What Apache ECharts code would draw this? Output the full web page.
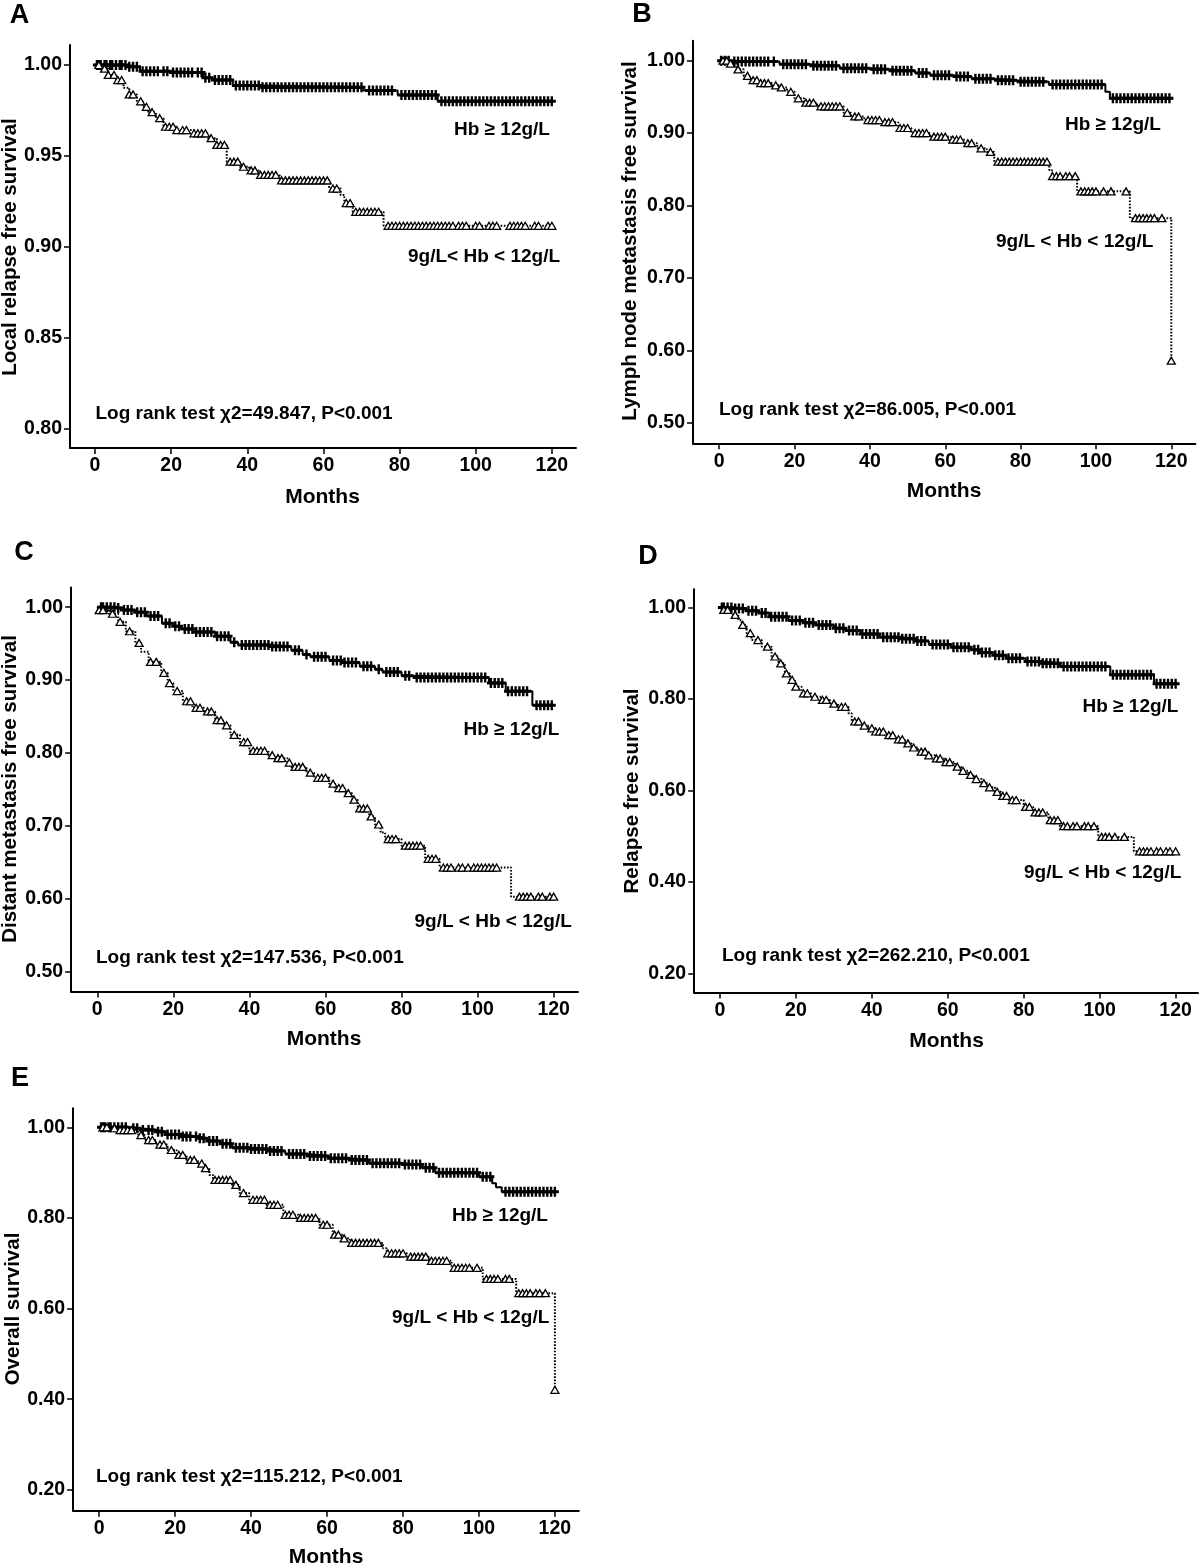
<!DOCTYPE html>
<html><head><meta charset="utf-8">
<script src="https://cdn.jsdelivr.net/npm/echarts@6/dist/echarts.min.js"></script>
<style>html,body{margin:0;padding:0;background:#fff}#c{width:1200px;height:1567px}</style>
</head><body><div id="c"></div>
<script>
// ---------- DATA ----------
const xTicks = [0, 20, 40, 60, 80, 100, 120];
const yTicksA = [0.80, 0.85, 0.90, 0.95, 1.00];
const yTicksB = [0.50, 0.60, 0.70, 0.80, 0.90, 1.00];
const yTicksC = [0.50, 0.60, 0.70, 0.80, 0.90, 1.00];
const yTicksD = [0.20, 0.40, 0.60, 0.80, 1.00];
const yTicksE = [0.20, 0.40, 0.60, 0.80, 1.00];

const titles = ["Local relapse free survival", "Lymph node metastasis free survival",
  "Distant metastasis free survival", "Relapse free survival", "Overall survival"];
const letters = ["A", "B", "C", "D", "E"];
const groupHigh = "Hb \u2265 12g/L";
const groupLowA = "9g/L< Hb < 12g/L";
const groupLow = "9g/L < Hb < 12g/L";
const logRank = ["Log rank test \u03c72=49.847, P<0.001", "Log rank test \u03c72=86.005, P<0.001",
  "Log rank test \u03c72=147.536, P<0.001", "Log rank test \u03c72=262.210, P<0.001",
  "Log rank test \u03c72=115.212, P<0.001"];
const xTitle = "Months";

// KM steps: [event time (months), survival after event]
const stepsA_hi = [[0,1],[8.3,0.999],[11.8,0.9965],[20,0.9958],[28.4,0.993],[31,0.9917],[36.2,0.9887],[44,0.9878],[70.5,0.986],[79.5,0.9835],[90,0.98]];
const stepsA_lo = [[0,1],[1.5,0.998],[3.5,0.9945],[5.5,0.9917],[7.5,0.9875],[9,0.9838],[11,0.98],[12.5,0.977],[14,0.974],[16,0.9707],[18,0.966],[21.5,0.9642],[26,0.9624],[29.5,0.9597],[32,0.956],[34.6,0.9468],[38,0.944],[40.5,0.942],[43,0.9395],[48.5,0.9365],[61.5,0.932],[64.5,0.9285],[65.5,0.924],[67.7,0.9192],[75.8,0.9115]];
const stepsB_hi = [[0,1],[3,0.999],[16,0.995],[24,0.993],[32,0.9895],[40,0.988],[45,0.986],[52,0.983],[56,0.98],[62,0.978],[67,0.975],[73,0.973],[79,0.971],[87.5,0.967],[102.5,0.957],[103.7,0.948]];
const stepsB_lo = [[0,1],[2.4,0.996],[4.5,0.988],[6.5,0.979],[8,0.973],[11,0.969],[14,0.966],[16,0.963],[18,0.957],[20,0.948],[22.5,0.942],[26,0.937],[33,0.928],[35,0.923],[38.5,0.918],[43,0.915],[47.5,0.907],[51,0.9],[56,0.895],[61.5,0.891],[65,0.886],[68.5,0.879],[71,0.874],[73,0.8605],[87.6,0.849],[88.3,0.8405],[95,0.8195],[109,0.7825],[120,0.5856]];
const stepsC_hi = [[0,1],[5,0.999],[7,0.996],[10,0.993],[13,0.988],[17,0.978],[20,0.974],[22,0.97],[26,0.966],[31,0.96],[35,0.952],[37,0.948],[46,0.946],[51,0.941],[54,0.935],[56,0.932],[61,0.927],[65,0.924],[69,0.919],[73,0.915],[75,0.911],[80,0.906],[83,0.9036],[103,0.896],[107.4,0.8846],[114.4,0.8656]];
const stepsC_lo = [[0,1],[0.5,0.996],[3,0.991],[5.5,0.98],[7.5,0.967],[10,0.951],[11.5,0.939],[13.5,0.925],[16.8,0.91],[18.5,0.896],[20,0.885],[22.5,0.871],[25,0.862],[28,0.857],[31,0.845],[33,0.838],[35,0.825],[37.5,0.815],[40,0.803],[45,0.797],[46.5,0.793],[50,0.787],[51,0.781],[55,0.773],[57,0.766],[61,0.758],[62.5,0.752],[65,0.745],[67,0.736],[68.5,0.724],[71.5,0.713],[73,0.702],[74.5,0.691],[75.7,0.682],[80,0.673],[86.2,0.655],[90,0.643],[108.8,0.603]];
const stepsD_hi = [[0,1],[4,0.998],[7,0.993],[10,0.988],[13,0.98],[18,0.972],[22,0.967],[25,0.962],[30,0.955],[33,0.95],[37,0.942],[42,0.935],[48,0.932],[52,0.927],[55,0.919],[61,0.913],[66,0.908],[68.5,0.902],[72,0.896],[75.5,0.889],[80.5,0.882],[85,0.878],[89.5,0.871],[102.8,0.853],[114.3,0.8335]];
const stepsD_lo = [[0,1],[1,0.995],[3,0.984],[4.8,0.973],[5.7,0.962],[7,0.944],[8.3,0.929],[11,0.9145],[13.6,0.893],[15.4,0.878],[17.1,0.856],[18.4,0.842],[19.7,0.827],[21.5,0.8125],[24,0.805],[26.8,0.798],[29,0.79],[31.1,0.783],[33.8,0.769],[34.7,0.751],[37,0.742],[39,0.736],[41,0.729],[43.4,0.721],[46,0.712],[48.7,0.703],[50.5,0.694],[52.2,0.685],[54.5,0.677],[56.6,0.67],[59,0.662],[61.9,0.652],[63.5,0.643],[65.4,0.634],[67,0.625],[68.9,0.616],[70.5,0.607],[72.4,0.597],[74,0.588],[76,0.579],[80,0.564],[82.5,0.552],[86.5,0.535],[89.5,0.522],[99.6,0.4985],[109,0.467]];
const stepsE_hi = [[0,1],[8,0.998],[11,0.994],[15,0.99],[18,0.984],[22,0.98],[26,0.976],[28.5,0.97],[32,0.964],[35,0.955],[40,0.952],[45,0.948],[49,0.941],[55,0.937],[60.5,0.932],[66,0.928],[71,0.921],[80,0.918],[85,0.911],[88.5,0.9],[100,0.891],[103.5,0.8765],[104.5,0.868],[106,0.858]];
const stepsE_lo = [[0,1],[3,0.998],[5,0.994],[9.5,0.99],[10.3,0.983],[12,0.972],[15,0.962],[18,0.95],[20.4,0.939],[23,0.928],[26,0.92],[27.4,0.91],[29,0.895],[30,0.884],[35,0.873],[37,0.855],[39.5,0.84],[44,0.829],[48.5,0.807],[52.5,0.8],[58,0.785],[61.5,0.763],[64,0.755],[66,0.745],[74.7,0.733],[75.7,0.722],[81,0.7147],[86.7,0.7055],[92.8,0.69],[101,0.6655],[109.8,0.634],[120,0.4207]];

// Censoring times (months)
const censA_hi = "0.5 1 1.5 2.5 3 4 4.5 5.5 6.5 7 8 9 10 11 12.5 13.5 14.5 15.5 16.5 18 19 20.5 21.5 22.5 23.5 24.5 25.5 27 28 29 30 31.5 32.5 33.5 34.5 35.5 37 38 39 40 41 42 43 44 45 46 47 48 49 50 51 52 53 54 55 56 57 58 59 60 61 62 63 64 65 66 67 68 69 70 72 73 74 75 76 77 78 80.5 81.5 82.5 83.5 84.5 85.5 86.5 87.5 88.5 89.5 91 92 93 94 95 96 97 98 99 100 101 102 103 104 105 106 107 108 109 110 111 112 113 114 115 116 117 118 119 120";
const censA_lo = "1 2.5 3.5 5 6 7 9 10 12 13.5 15 17 18.5 19.5 20.5 21.5 23 24 26 27 28 29 30.5 32 33 34 35.5 36.5 37.5 39 41 42 43.5 44.5 45.5 46.5 47.5 49 50 51 52 53 54 55 56 57 58 59 60 61 62.5 63.5 66 67 68.5 69.5 70.5 71.5 72.5 73.5 74.5 77 78 79 80 81 82 83 84 85 86 87 88 89 90 91 92 93 94 95.5 96.5 97.5 100 101 103.5 104.5 105.5 109 110 111 112 113 115.5 116.5 119 120";
const censB_hi = "0.5 1.5 2.5 4 5 6 7 8 9 10 11 12 13 14.5 17 18 19 20 21 22 23 25 26 27 28 29 30 31 33 34 35 36 37 38 39 41 42 43 44 46 47 48 49 50 51 53 54 55 57 58 59 60 61 63 64 65 66 68 69 70 71 72 74 75 76 77 78 80 81 82 83 84 85 86 88.5 89.5 90.5 91.5 92.5 93.5 94.5 95.5 96.5 97.5 98.5 99.5 100.5 101.5 104.5 105.5 106.5 107.5 108.5 109.5 110.5 111.5 112.5 113.5 114.5 115.5 116.5 117.5 118.5 119.5";
const censB_lo = "1 2 3 5 7.5 9 10 11 12 13 15 16.5 19 21 23 24 25 27 28 29 30 31 32 34 36 37 39.5 40.5 41.5 42.5 44 45 46 48 49 50 52 53 54 55 57 58 59 60 62 63 64 66 67 69.5 72 74 75 76 77 78 79 80 81 82 83 84 85 86 87 88.5 89.5 90.5 92 93 94.5 96 97 98 99 100 102 104 108 110.5 111.5 112.5 113.5 114.5 115.5 117.5 120";
const censC_hi = "1 1.5 2.5 3.5 4.5 5.5 7 8 9 10.5 11.5 12.5 14 15 16 18 19 20.5 21.5 23 24 25 26 27 28 29 30 31.5 32.5 33.5 34.5 36 38 39 40 41 42 43 44 45 46 47 48 49 50 52 53 55 57 58 59 60 62 63 64 65 66 67 68 70 71 72 74 76 77 78 79 81 82 84 85 86 87 88 89 90 91 92 93 94 95 96 97 98 99 100 101 102 103.5 104.5 105.5 106.5 108 109 110 111 112 113 115.5 116.5 117.5 118.5 119.5";
const censC_lo = "0.5 1.5 4 6 8.5 11 14 15.5 17.5 19 21 23.5 24.5 26 27 29 30 31.5 32.5 34 36 38.5 39.5 41 42 43 44 46 47.5 48.5 50.5 52 53 54 56 58 59 60 62 63.5 64.5 66 67.5 69 70 71 72 74 76.5 77.5 78.5 81 82 83 84 85 87 88 89 91 92 93 95 96 97.5 99 100 101 102 103 104 105 111 112 113 114 116 117 119 120";
const censD_hi = "0.5 1 2 3 4 5 6 7.5 8.5 9.5 11 12 13.5 14.5 15.5 16.5 17.5 19 20 21 22.5 23.5 24.5 26 27 28 29 30.5 31.5 32.5 34 35 36 37.5 38.5 39.5 40.5 41.5 43 44 45 46 47 48 49 50 51 52 53 54 56 57 58 59 60 61.5 62.5 63.5 64.5 65.5 67 68 69 70 71 72.5 73.5 74.5 76 77 78 79 81 82 83 84 85 86 87 88 89 90.5 91.5 92.5 93.5 94.5 95.5 96.5 97.5 98.5 99.5 100.5 101.5 103.5 104.5 105.5 106.5 107.5 108.5 109.5 110.5 111.5 112.5 113.5 115 116 117 118 119 120";
const censD_lo = "1 2 4 6 8 10 12.5 14.5 16 17.5 19 20 22 23 25 27 28 30 32 33 35.5 36.5 38 40 41 42 43 44.5 45.5 47 48 49.5 51 53 54 55 57 58 59.5 60.5 62.5 64 66 67.5 69.5 71 73 74.5 75.5 77 78 80.5 81.5 83 84 85 87 88 89 90.5 91.5 93 94 96 97 98.5 100.5 101.5 102.5 104 106.5 110.5 111.5 112.5 113.5 115 116 117.5 118.5 120";
const censE_hi = "0.5 1 1.5 2.5 3 4 5 6 7 9 10 11.5 13 14 15.5 16.5 18 19 20 21 22 23 24 25.5 26.5 27.5 29 30 31 32.5 33.5 34.5 36 37 38 39 40 41 42 43 44 45 46 47 48 50 51 52 53 54 55.5 56.5 57.5 58.5 59.5 61 62 63 64 65 66.5 67.5 68.5 69.5 70.5 72 73 74 75 76 77 78 79 80.5 81.5 82.5 83.5 84.5 86 87 88 89.5 90.5 91.5 92.5 93.5 94.5 95.5 96.5 97.5 98.5 99.5 101 102 103 107 108 109 110 111 112 113 114 115 116 117 118 119 120";
const censE_lo = "1 2 4 5.5 6.5 7.5 8.5 11 13 14 16 17 19 21 22 24 25 27 28 30.5 31.5 32.5 33.5 34.5 36 38 40.5 41.5 42.5 43.5 45 46 47 49 50 51 53 54 55 56 57 59 60 62 63 64.5 66.5 67.5 68.5 69.5 70.5 71.5 72.5 73.5 76 77 78 79 80 82 83 84 85 86 87.5 88.5 89.5 90.5 91.5 93.5 94.5 95.5 96.5 97.5 99.5 102 103 104 105 107 108 110.5 111.5 112.5 113.5 115 116 117.5 120";

// ---------- LAYOUT ----------
const FONT = "'Liberation Sans', Arial, Helvetica, sans-serif";
const panels = [
  { g:{left:70, top:45, width:506, height:403}, x:[-6.57,126.35], y:[0.7892,1.011], yt:yTicksA, hi:stepsA_hi, lo:stepsA_lo, ch:censA_hi, cl:censA_lo,
    letter:[19.5,16], title:[10.5,247], hb:[454,130], lw:[408,257], lr:[95.5,414], lowTxt:groupLowA, mo:[322.5,497] },
  { g:{left:693, top:40.7, width:502.4, height:402.6}, x:[-6.96,126.4], y:[0.4715,1.0276], yt:yTicksB, hi:stepsB_hi, lo:stepsB_lo, ch:censB_hi, cl:censB_lo,
    letter:[642,15], title:[630,241], hb:[1065,125], lw:[996,242], lr:[719,410], lowTxt:groupLow, mo:[944,491] },
  { g:{left:71.2, top:587.5, width:506.8, height:404}, x:[-6.86,126.4], y:[0.473,1.027], yt:yTicksC, hi:stepsC_hi, lo:stepsC_lo, ch:censC_hi, cl:censC_lo,
    letter:[24,553], title:[10.5,789], hb:[463.5,729.5], lw:[414.5,921.5], lr:[96,958], lowTxt:groupLow, mo:[324,1039] },
  { g:{left:694.2, top:589.2, width:503.8, height:403.3}, x:[-6.79,125.9], y:[0.1582,1.0402], yt:yTicksD, hi:stepsD_hi, lo:stepsD_lo, ch:censD_hi, cl:censD_lo,
    letter:[648,557], title:[632.5,791], hb:[1082.5,707], lw:[1024,873], lr:[722,956], lowTxt:groupLow, mo:[946.5,1041] },
  { g:{left:73.1, top:1108.3, width:505.7, height:402.4}, x:[-6.87,126.3], y:[0.154,1.042], yt:yTicksE, hi:stepsE_hi, lo:stepsE_lo, ch:censE_hi, cl:censE_lo,
    letter:[20,1079], title:[13.5,1309], hb:[452,1216], lw:[392,1318], lr:[96,1477], lowTxt:groupLow, mo:[326,1557] }
];

function survAt(steps, t) {
  let s = steps[0][1];
  for (const p of steps) { if (p[0] <= t) s = p[1]; else break; }
  return s;
}
function lineData(steps) {
  const d = steps.map(p => [p[0], p[1]]);
  const last = d[d.length - 1];
  if (last[0] < 120) d.push([120, last[1]]);
  return d;
}
function censData(steps, str) {
  return str.trim().split(/\s+/).map(Number).map(t => [t, survAt(steps, t)]);
}

const PLUS = 'path://M3.5,0H6.5V3.5H10V6.5H6.5V10H3.5V6.5H0V3.5H3.5Z';
const grid = [], xAxis = [], yAxis = [], series = [], graphic = [];
const labelStyle = { color:'#000', fontSize:19.5, fontWeight:'bold', fontFamily:FONT };

panels.forEach((p, i) => {
  grid.push(Object.assign({ containLabel:false }, p.g));
  xAxis.push({ gridIndex:i, type:'value', min:p.x[0], max:p.x[1],
    axisLine:{ show:true, onZero:false, lineStyle:{ color:'#000', width:2 } },
    axisTick:{ show:true, length:6, customValues:xTicks, lineStyle:{ color:'#000', width:1.5 } },
    axisLabel:Object.assign({ customValues:xTicks, margin:8, formatter:v => String(v) }, labelStyle),
    splitLine:{ show:false } });
  yAxis.push({ gridIndex:i, type:'value', min:p.y[0], max:p.y[1],
    axisLine:{ show:true, onZero:false, lineStyle:{ color:'#000', width:2 } },
    axisTick:{ show:true, length:6, customValues:p.yt, lineStyle:{ color:'#000', width:1.5 } },
    axisLabel:Object.assign({ customValues:p.yt, margin:8, formatter:v => Number(v).toFixed(2) }, labelStyle),
    splitLine:{ show:false } });

  series.push({ type:'line', xAxisIndex:i, yAxisIndex:i, step:'end', data:lineData(p.hi),
    symbol:'none', silent:true, animation:false, z:2,
    lineStyle:{ color:'#000', width:2, type:'solid' } });
  series.push({ type:'line', xAxisIndex:i, yAxisIndex:i, step:'end', data:lineData(p.lo),
    symbol:'none', silent:true, animation:false, z:2,
    lineStyle:{ color:'#000', width:2, type:[1.6,1.6] } });
  series.push({ type:'scatter', xAxisIndex:i, yAxisIndex:i, data:censData(p.hi, p.ch),
    symbol:PLUS, symbolSize:[8,10], silent:true, animation:false, z:3,
    itemStyle:{ color:'#000', opacity:1 } });
  series.push({ type:'scatter', xAxisIndex:i, yAxisIndex:i, data:censData(p.lo, p.cl),
    symbol:'triangle', symbolSize:[8,7], silent:true, animation:false, z:3,
    itemStyle:{ color:'#fff', borderColor:'#000', borderWidth:1.3, opacity:1 } });

  const txt = (x, y, text, size, align, rot) => graphic.push({ type:'text', x, y, rotation:rot || 0, silent:true,
    style:{ text, fill:'#000', font:'bold ' + size + 'px ' + FONT, align, verticalAlign:'middle' } });
  txt(p.letter[0], p.letter[1], letters[i], 27, 'center');
  txt(p.title[0], p.title[1], titles[i], 20.5, 'center', Math.PI / 2);
  txt(p.hb[0], p.hb[1], groupHigh, 19, 'left');
  txt(p.lw[0], p.lw[1], p.lowTxt, 19, 'left');
  txt(p.lr[0], p.lr[1], logRank[i], 19, 'left');
  txt(p.mo[0], p.mo[1], xTitle, 21, 'center');
});

const chart = echarts.init(document.getElementById('c'), null, { renderer:'canvas', width:1200, height:1567 });
chart.setOption({ animation:false, backgroundColor:'#fff', grid, xAxis, yAxis, series, graphic });
</script></body></html>
